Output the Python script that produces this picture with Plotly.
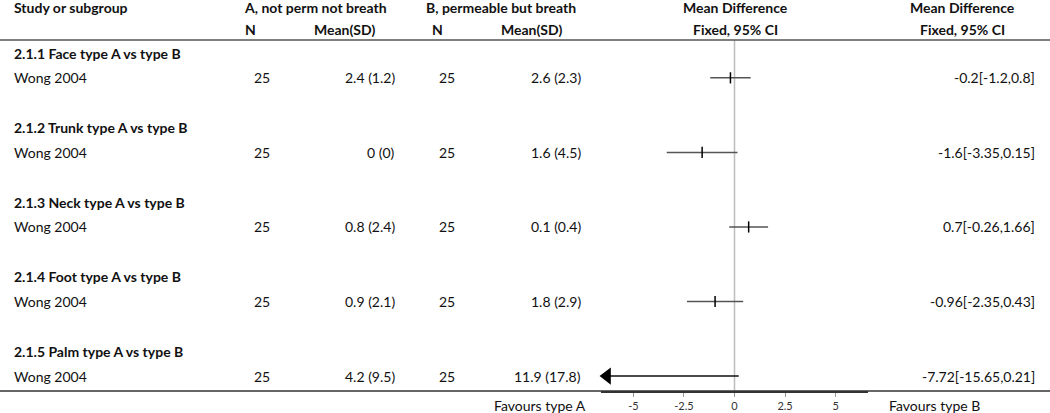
import plotly.graph_objects as go

# --- data ---
groups = [
    "2.1.1 Face type A vs type B",
    "2.1.2 Trunk type A vs type B",
    "2.1.3 Neck type A vs type B",
    "2.1.4 Foot type A vs type B",
    "2.1.5 Palm type A vs type B",
]
studies = ["Wong 2004"] * 5
n_a = [25, 25, 25, 25, 25]
mean_a = [2.4, 0, 0.8, 0.9, 4.2]
sd_a = [1.2, 0, 2.4, 2.1, 9.5]
n_b = [25, 25, 25, 25, 25]
mean_b = [2.6, 1.6, 0.1, 1.8, 11.9]
sd_b = [2.3, 4.5, 0.4, 2.9, 17.8]
md = [-0.2, -1.6, 0.7, -0.96, -7.72]
ci_lo = [-1.2, -3.35, -0.26, -2.35, -15.65]
ci_hi = [0.8, 0.15, 1.66, 0.43, 0.21]
tick_vals = [-5, -2.5, 0, 2.5, 5]
tick_text = ["-5", "-2.5", "0", "2.5", "5"]

W, H = 1050, 413
FONT = "Lato"
TXT = "#111111"
X_MIN, X_MAX = -6.6, 6.6
ROW_H = 24.85
ROW0_PX = 53
ARROW_OFF = 0.3  # half the arrowhead width, in axis units, so the tip sits on the axis edge


def px_x(p):
    return p / W


def px_y(p):
    return 1 - p / H


def px_row(p):
    return (p - ROW0_PX) / ROW_H


fig = go.Figure()

annotations = []


def txt(x, y, s, anchor="left", bold=False, yref="y", size=14):
    annotations.append(dict(
        x=px_x(x), y=y, xref="paper", yref=yref, text=f"<b>{s}</b>" if bold else s,
        showarrow=False, xanchor=anchor, yanchor="middle",
        font=dict(family=FONT, size=size, color=TXT),
    ))


# header
txt(12, px_y(8), "Study or subgroup", bold=True, yref="paper")
txt(315, px_y(8), "A, not perm not breath", "center", True, "paper")
txt(501, px_y(8), "B, permeable but breath", "center", True, "paper")
txt(735, px_y(8), "Mean Difference", "center", True, "paper")
txt(962, px_y(8), "Mean Difference", "center", True, "paper")
txt(250, px_y(30), "N", "center", True, "paper")
txt(344, px_y(30), "Mean(SD)", "center", True, "paper")
txt(437, px_y(30), "N", "center", True, "paper")
txt(531, px_y(30), "Mean(SD)", "center", True, "paper")
txt(735, px_y(30), "Fixed, 95% CI", "center", True, "paper")
txt(962, px_y(30), "Fixed, 95% CI", "center", True, "paper")

for i in range(len(groups)):
    hr = 3 * i
    sr = 3 * i + 1
    txt(12, hr, groups[i], bold=True)
    txt(12, sr, studies[i])
    txt(262, sr, str(n_a[i]), "center")
    txt(397, sr, f"{mean_a[i]:g} ({sd_a[i]:g})", "right")
    txt(447, sr, str(n_b[i]), "center")
    txt(583, sr, f"{mean_b[i]:g} ({sd_b[i]:g})", "right")
    txt(1037, sr, f"{md[i]:g}[{ci_lo[i]:g},{ci_hi[i]:g}]", "right")

txt(540, px_y(405), "Favours type A", "center", yref="paper")
txt(887, px_y(405), "Favours type B", "left", yref="paper")

# zero line + rules
shapes = [
    dict(type="line", xref="x", yref="paper", x0=0, x1=0, y0=px_y(40), y1=px_y(391),
         line=dict(color="#bdbdbd", width=1.5), layer="below"),
    dict(type="line", xref="paper", yref="paper", x0=0, x1=1, y0=px_y(40), y1=px_y(40),
         line=dict(color="#555555", width=1.5)),
    dict(type="line", xref="paper", yref="paper", x0=0, x1=1, y0=px_y(391), y1=px_y(391),
         line=dict(color="#333333", width=1.3)),
]

# CI lines
for i in range(len(md)):
    sr = 3 * i + 1
    lo_c = max(ci_lo[i], X_MIN)
    hi_c = min(ci_hi[i], X_MAX)
    clipped = ci_lo[i] < X_MIN
    fig.add_trace(go.Scatter(
        x=[lo_c + (ARROW_OFF if clipped else 0), hi_c], y=[sr, sr], mode="lines",
        line=dict(color="#111111" if clipped else "#555555", width=1.5),
        hoverinfo="skip", showlegend=False, cliponaxis=False,
    ))
    if clipped:
        fig.add_trace(go.Scatter(
            x=[X_MIN + ARROW_OFF], y=[sr], mode="markers",
            marker=dict(symbol="triangle-left", size=15, color="black",
                        line=dict(width=0)),
            hoverinfo="skip", showlegend=False, cliponaxis=False,
        ))
    if X_MIN <= md[i] <= X_MAX:
        fig.add_trace(go.Scatter(
            x=[md[i]], y=[sr], mode="markers",
            marker=dict(symbol="line-ns", size=8,
                        line=dict(color="black", width=1.5)),
            hoverinfo="skip", showlegend=False,
        ))

bottom_frac = (H - 391) / H
fig.update_layout(
    width=W, height=H,
    margin=dict(l=0, r=0, t=0, b=0),
    paper_bgcolor="white", plot_bgcolor="rgba(0,0,0,0)",
    annotations=annotations,
    shapes=shapes,
    xaxis=dict(
        domain=[px_x(601), px_x(868)], range=[X_MIN, X_MAX],
        tickvals=tick_vals, ticktext=tick_text,
        ticks="outside", ticklen=4, tickwidth=1, tickcolor="#999999",
        tickfont=dict(family=FONT, size=11, color="#333333"),
        showgrid=False, zeroline=False,
        showline=True, linecolor="#333333", linewidth=2,
        fixedrange=True,
    ),
    yaxis=dict(
        domain=[bottom_frac, 1], range=[px_row(391), px_row(0)],
        visible=False, showgrid=False, zeroline=False, fixedrange=True,
    ),
    showlegend=False,
)

# page body has a default 8px margin; drop it so the figure fills the window
fig.write_html("out.html", config={"displayModeBar": False},
               post_script="document.body.style.margin='0';")
